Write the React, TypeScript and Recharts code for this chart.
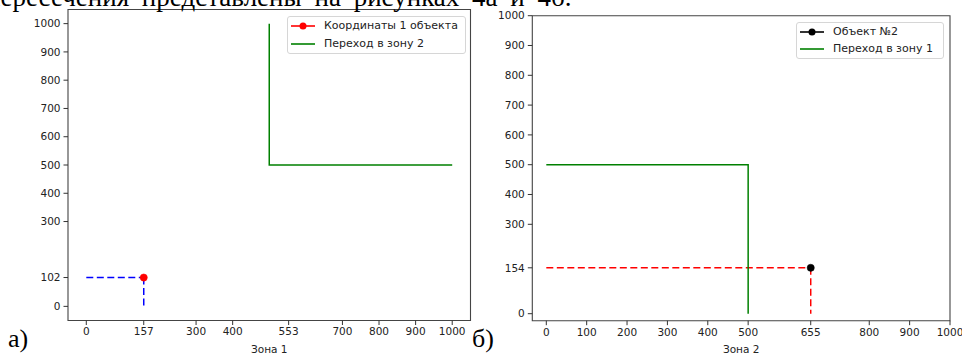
import React from 'react';
import { LineChart, Line, XAxis, YAxis, ReferenceArea } from 'recharts';

// ---------- data ----------
const leftXTicks = [0, 157, 300, 400, 553, 700, 800, 900, 1000];
const leftYTicks = [0, 102, 300, 400, 500, 600, 700, 800, 900, 1000];
const object1Point = [{ x: 157, y: 102 }];
const object1GuideH = [{ x: 0, y: 102 }, { x: 157, y: 102 }];
const object1GuideV = [{ x: 157, y: 102 }, { x: 157, y: 0 }];
const zone2Border = [{ x: 500, y: 1000 }, { x: 500, y: 500 }, { x: 1000, y: 500 }];
const leftLegendNames = ['Координаты 1 объекта', 'Переход в зону 2'];
const leftAxisLabel = 'Зона 1';

const rightXTicks = [0, 100, 200, 300, 400, 500, 655, 800, 900, 1000];
const rightYTicks = [0, 154, 300, 400, 500, 600, 700, 800, 900, 1000];
const object2Point = [{ x: 655, y: 154 }];
const object2GuideH = [{ x: 0, y: 154 }, { x: 655, y: 154 }];
const object2GuideV = [{ x: 655, y: 154 }, { x: 655, y: 0 }];
const zone1Border = [{ x: 0, y: 500 }, { x: 500, y: 500 }, { x: 500, y: 0 }];
const rightLegendNames = ['Объект №2', 'Переход в зону 1'];
const rightAxisLabel = 'Зона 2';

const topText = 'пересечения представлены на рисунках 4а и 4б.';
const panelLabels = ['а)', 'б)'];

// ---------- styles ----------
const FONT = '"DejaVu Sans", sans-serif';
const SERIF = '"Liberation Serif", "Times New Roman", serif';
const tickStyle = { fontSize: 10.5, fill: '#222', fontFamily: FONT };
const tickLine = { stroke: '#333', strokeWidth: 1 };

type LegendItem = { name: string; color: string; marker: boolean };

function LegendBox({ left, top, width, height, items }: { left: number; top: number; width: number; height: number; items: LegendItem[] }) {
  return (
    <div
      style={{
        position: 'absolute',
        left,
        top,
        width,
        height,
        boxSizing: 'border-box',
        border: '1px solid #d6d6d6',
        borderRadius: 3,
        background: 'rgba(255,255,255,0.85)',
        fontFamily: FONT,
        fontSize: 11,
        color: '#222',
      }}
    >
      {items.map((it, i) => (
        <div key={i} style={{ position: 'absolute', left: 0, top: 9 + i * 17.8 - 7, height: 14, width: '100%' }}>
          <svg width={30} height={14} style={{ position: 'absolute', left: 2, top: 0 }}>
            <line x1={1} y1={7} x2={25} y2={7} stroke={it.color} strokeWidth={1.6} />
            {it.marker && <circle cx={13} cy={7} r={3.5} fill={it.color} />}
          </svg>
          <span style={{ position: 'absolute', left: 36, top: 0, lineHeight: '14px', whiteSpace: 'nowrap' }}>{it.name}</span>
        </div>
      ))}
    </div>
  );
}

function Frame({ x1, x2, y1, y2 }: { x1: number; x2: number; y1: number; y2: number }) {
  return <ReferenceArea x1={x1} x2={x2} y1={y1} y2={y2} fill="none" stroke="#444" strokeWidth={1.1} ifOverflow="visible" />;
}

export default function App() {
  const lx: [number, number] = [-50, 1050];
  const ly: [number, number] = [-50, 1050];
  const rx: [number, number] = [-34.7, 1000];
  const ry: [number, number] = [-23.5, 1000];
  return (
    <div style={{ position: 'absolute', left: 0, top: 0, width: 962, height: 359, overflow: 'hidden', background: '#fff' }}>
      {/* Left chart */}
      <div style={{ position: 'absolute', left: 0, top: 0 }}>
        <LineChart width={480} height={359} margin={{ top: 9.5, right: 9.5, bottom: 0, left: 0 }}>
          <XAxis
            type="number"
            dataKey="x"
            domain={lx}
            ticks={leftXTicks}
            allowDataOverflow
            axisLine={false}
            tickLine={tickLine}
            tickSize={4.5}
            tickMargin={3}
            tick={tickStyle}
            height={38.5}
            interval={0}
            label={{ value: leftAxisLabel, position: 'insideBottom', offset: 6, style: { fontSize: 10.5, fill: '#222', fontFamily: FONT } }}
          />
          <YAxis
            type="number"
            dataKey="y"
            domain={ly}
            ticks={leftYTicks}
            allowDataOverflow
            axisLine={false}
            tickLine={tickLine}
            tickSize={4.5}
            tickMargin={3}
            tick={tickStyle}
            width={68}
            interval={0}
          />
          <Frame x1={lx[0]} x2={lx[1]} y1={ly[0]} y2={ly[1]} />
          <Line data={object1GuideH} dataKey="y" stroke="#0000ff" strokeWidth={1.5} strokeDasharray="7 3.5" dot={false} isAnimationActive={false} />
          <Line data={object1GuideV} dataKey="y" stroke="#0000ff" strokeWidth={1.5} strokeDasharray="7 3.5" dot={false} isAnimationActive={false} />
          <Line data={zone2Border} dataKey="y" stroke="#008000" strokeWidth={1.5} dot={false} isAnimationActive={false} />
          <Line data={object1Point} dataKey="y" stroke="#ff0000" dot={{ r: 3.6, fill: '#ff0000', stroke: '#ff0000', strokeWidth: 0.5 }} isAnimationActive={false} />
        </LineChart>
      </div>
      <LegendBox
        left={287}
        top={16}
        width={179}
        height={38}
        items={[
          { name: leftLegendNames[0], color: '#ff0000', marker: true },
          { name: leftLegendNames[1], color: '#008000', marker: false },
        ]}
      />

      {/* Right chart */}
      <div style={{ position: 'absolute', left: 480, top: 0 }}>
        <LineChart width={482} height={359} margin={{ top: 15.7, right: 12, bottom: 0, left: 0 }} style={{ overflow: 'visible' }}>
          <XAxis
            type="number"
            dataKey="x"
            domain={rx}
            ticks={rightXTicks}
            allowDataOverflow
            axisLine={false}
            tickLine={tickLine}
            tickSize={4.5}
            tickMargin={3}
            tick={tickStyle}
            height={38.3}
            interval={0}
            label={{ value: rightAxisLabel, position: 'insideBottom', offset: 6, style: { fontSize: 10.5, fill: '#222', fontFamily: FONT } }}
          />
          <YAxis
            type="number"
            dataKey="y"
            domain={ry}
            ticks={rightYTicks}
            allowDataOverflow
            axisLine={false}
            tickLine={tickLine}
            tickSize={4.5}
            tickMargin={3}
            tick={tickStyle}
            width={52.3}
            interval={0}
          />
          <Frame x1={rx[0]} x2={rx[1]} y1={ry[0]} y2={ry[1]} />
          <Line data={object2GuideH} dataKey="y" stroke="#ff0000" strokeWidth={1.5} strokeDasharray="7 3.5" dot={false} isAnimationActive={false} />
          <Line data={object2GuideV} dataKey="y" stroke="#ff0000" strokeWidth={1.5} strokeDasharray="7 3.5" dot={false} isAnimationActive={false} />
          <Line data={zone1Border} dataKey="y" stroke="#008000" strokeWidth={1.5} dot={false} isAnimationActive={false} />
          <Line data={object2Point} dataKey="y" stroke="#000" dot={{ r: 3.6, fill: '#000', stroke: '#000', strokeWidth: 0.5 }} isAnimationActive={false} />
        </LineChart>
      </div>
      <LegendBox
        left={796}
        top={21.7}
        width={148}
        height={37.3}
        items={[
          { name: rightLegendNames[0], color: '#000', marker: true },
          { name: rightLegendNames[1], color: '#008000', marker: false },
        ]}
      />

      {/* Document text */}
      <svg width={962} height={359} style={{ position: 'absolute', left: 0, top: 0, pointerEvents: 'none' }}>
        <text x={-14} y={5.5} fontFamily={SERIF} fontSize={27} wordSpacing={6} fill="#000">{topText}</text>
        <text x={8} y={347} fontFamily={SERIF} fontSize={26} fill="#000">{panelLabels[0]}</text>
        <text x={472} y={347} fontFamily={SERIF} fontSize={26} fill="#000">{panelLabels[1]}</text>
      </svg>
    </div>
  );
}
